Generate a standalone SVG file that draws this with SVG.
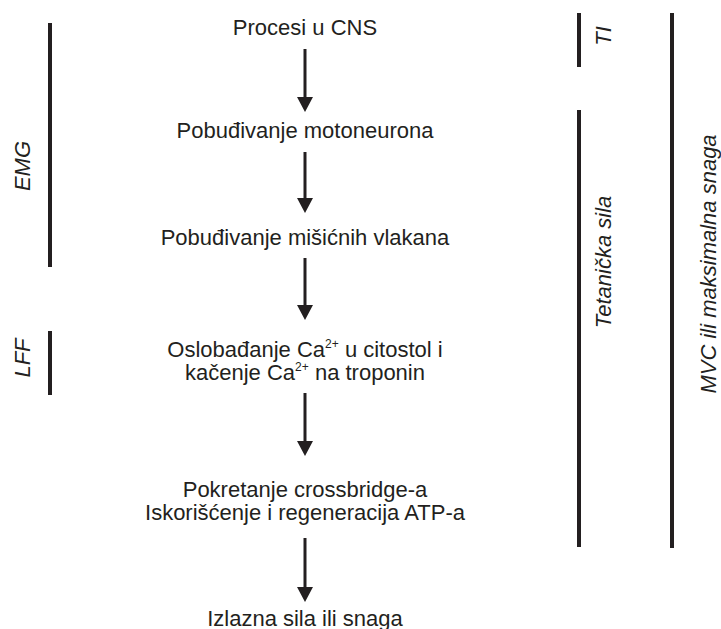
<svg xmlns="http://www.w3.org/2000/svg" width="721" height="629" viewBox="0 0 721 629">
<style>
.t{font-family:"Liberation Sans",Arial,sans-serif;font-size:22px;fill:#231f20;text-anchor:middle}
.s{font-size:12px}
.side{font-family:"Liberation Sans",Arial,sans-serif;font-size:22px;font-style:italic;fill:#231f20;text-anchor:middle}
.bar{stroke:#231f20;stroke-width:4;fill:none}
.shaft{stroke:#231f20;stroke-width:3;fill:none}
.head{fill:#231f20}
</style>
<rect width="721" height="629" fill="#fff"/>
<g id="n1"><text class="t" x="305" y="35">Procesi u CNS</text></g>
<g id="n2"><text class="t" x="305" y="138">Pobuđivanje motoneurona</text></g>
<g id="n3"><text class="t" x="305" y="245">Pobuđivanje mišićnih vlakana</text></g>
<g id="n4"><text class="t" x="305" y="357">Oslobađanje Ca<tspan class="s" dy="-9">2+</tspan><tspan dy="9"> u citostol i</tspan></text>
<text class="t" x="305" y="380">kačenje Ca<tspan class="s" dy="-9">2+</tspan><tspan dy="9"> na troponin</tspan></text></g>
<g id="n5"><text class="t" x="305" y="497">Pokretanje crossbridge-a</text>
<text class="t" x="305" y="520">Iskorišćenje i regeneracija ATP-a</text></g>
<g id="n6"><text class="t" x="305" y="626">Izlazna sila ili snaga</text></g>
<g id="connectors">
<line class="shaft" x1="305" y1="49" x2="305" y2="98"/>
<path class="head" d="M297,97 L313,97 L305,112 Z"/>
<line class="shaft" x1="305" y1="152" x2="305" y2="199"/>
<path class="head" d="M297,198 L313,198 L305,213 Z"/>
<line class="shaft" x1="305" y1="258" x2="305" y2="306"/>
<path class="head" d="M297,305 L313,305 L305,320 Z"/>
<line class="shaft" x1="305" y1="393" x2="305" y2="442"/>
<path class="head" d="M297,441 L313,441 L305,456 Z"/>
<line class="shaft" x1="305" y1="538" x2="305" y2="588"/>
<path class="head" d="M297,587 L313,587 L305,602 Z"/>
</g>
<g id="emg"><line class="bar" x1="50" y1="23" x2="50" y2="267"/><text class="side" transform="translate(30,166) rotate(-90)">EMG</text></g>
<g id="lff"><line class="bar" x1="50" y1="331" x2="50" y2="395"/><text class="side" transform="translate(30,358) rotate(-90)">LFF</text></g>
<g id="ti"><line class="bar" x1="579" y1="13" x2="579" y2="67"/><text class="side" transform="translate(611,36) rotate(-90)">TI</text></g>
<g id="tet"><line class="bar" x1="579" y1="110" x2="579" y2="547"/><text class="side" transform="translate(611,262) rotate(-90)">Tetanička sila</text></g>
<g id="mvc"><line class="bar" x1="672" y1="13" x2="672" y2="548"/><text class="side" transform="translate(716,264) rotate(-90)">MVC ili maksimalna snaga</text></g>
</svg>
